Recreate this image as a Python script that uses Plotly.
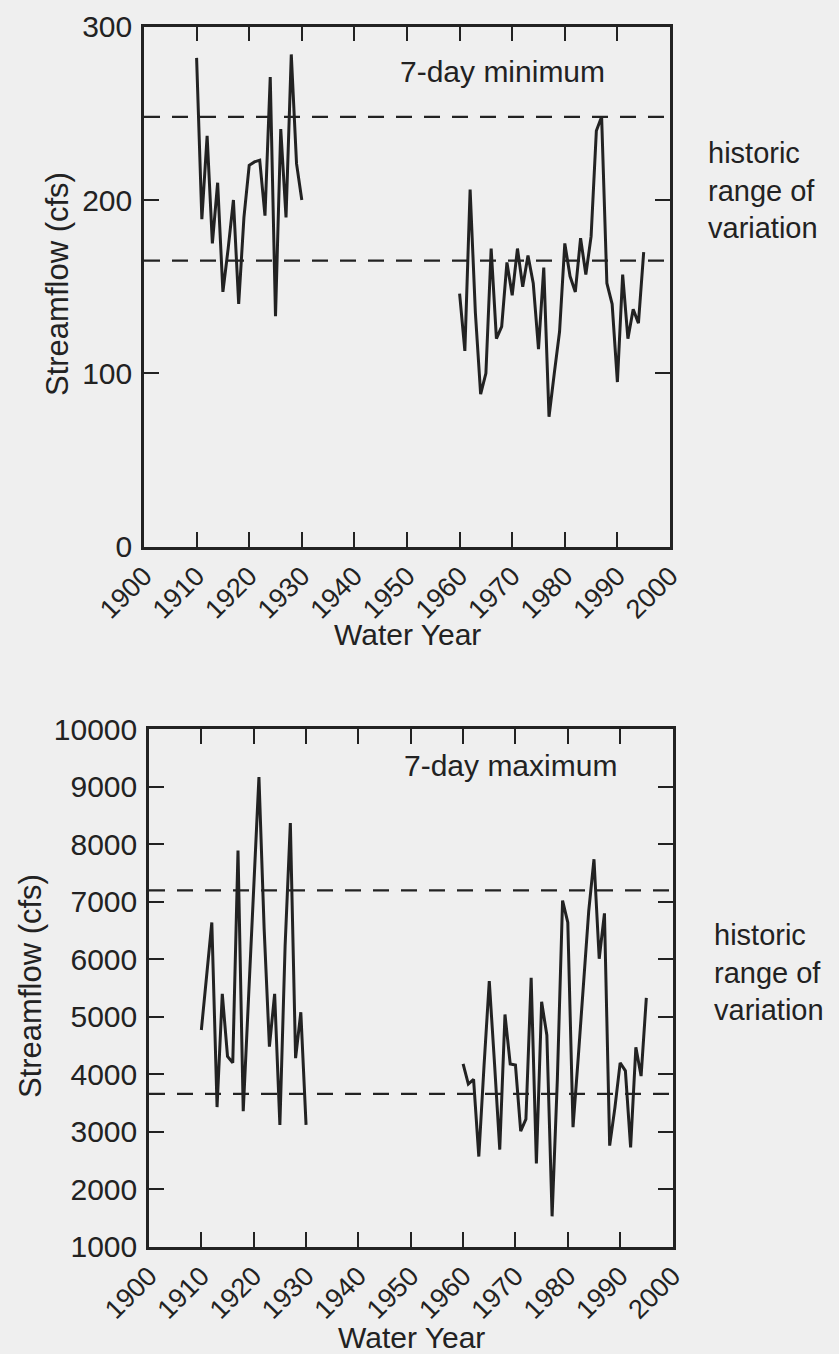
import plotly.graph_objects as go

# ---- data ----
min_years_early = list(range(1910, 1931))
min_flow_early = [282, 189, 237, 175, 210, 147, 172, 200, 140, 190, 220, 222, 223,
                  191, 271, 133, 241, 190, 284, 221, 200]
min_years_late = list(range(1960, 1996))
min_flow_late = [146, 113, 206, 135, 88, 100, 172, 120, 127, 164, 145, 172, 150, 168,
                 152, 114, 161, 75, 100, 124, 175, 156, 147, 178, 157, 179, 240, 248,
                 152, 140, 95, 157, 120, 137, 129, 170]
min_range = [165, 248]

max_years_early = list(range(1910, 1931))
max_flow_early = [4770, 5700, 6640, 3430, 5400, 4310, 4200, 7890, 3360, 5300, 7240,
                  9170, 6520, 4480, 5400, 3120, 6230, 8370, 4280, 5080, 3120]
max_years_late = list(range(1960, 1996))
max_flow_late = [4180, 3830, 3910, 2570, 4150, 5620, 4190, 2690, 5040, 4180, 4160,
                 3010, 3220, 5680, 2450, 5260, 4680, 1530, 3900, 7020, 6640, 3080,
                 4300, 5530, 6840, 7740, 6010, 6800, 2760, 3420, 4200, 4060, 2730,
                 4470, 3970, 5330]
max_range = [3660, 7200]

x_ticks = list(range(1900, 2001, 10))

FONT = "Arial, Liberation Sans, Helvetica, sans-serif"
INK = "#222222"
BG = "#efefef"
W, H = 839, 1354

fig = go.Figure()

def add_series(xs, ys, xa, ya):
    fig.add_trace(go.Scatter(x=xs, y=ys, mode="lines", xaxis=xa, yaxis=ya,
                             line=dict(color=INK, width=3), showlegend=False,
                             hoverinfo="skip"))

add_series(min_years_early, min_flow_early, "x", "y")
add_series(min_years_late, min_flow_late, "x", "y")
add_series(max_years_early, max_flow_early, "x2", "y2")
add_series(max_years_late, max_flow_late, "x2", "y2")

for v in min_range:
    fig.add_shape(type="line", xref="x domain", yref="y", x0=0, x1=1, y0=v, y1=v,
                  line=dict(color=INK, width=2.3, dash="16px,12px"))
for v in max_range:
    fig.add_shape(type="line", xref="x2 domain", yref="y2", x0=0, x1=1, y0=v, y1=v,
                  line=dict(color=INK, width=2.3, dash="16px,12px"))

def px_x(p):
    return p / W

def px_y(p):
    return 1 - p / H

axis_common = dict(showline=True, linecolor=INK, linewidth=2.5, mirror="ticks",
                   ticks="inside", ticklen=15, tickwidth=2.3, tickcolor=INK,
                   showgrid=False, zeroline=False, automargin=False)
yfont = dict(family=FONT, size=30, color=INK)
xfont = dict(family=FONT, size=27, color=INK)

fig.update_layout(
    width=W, height=H, paper_bgcolor=BG, plot_bgcolor=BG,
    margin=dict(l=0, r=0, t=0, b=0), showlegend=False,
    xaxis=dict(domain=[px_x(144), px_x(670)], range=[1900, 2000], tickvals=x_ticks,
               tickangle=-45, anchor="y", tickfont=xfont, ticklabelstandoff=0,
               **axis_common),
    yaxis=dict(domain=[px_y(546.7), px_y(26.7)], range=[0, 300], dtick=100,
               tickformat="d", anchor="x", ticklabelstandoff=3, tickfont=yfont,
               **axis_common),
    xaxis2=dict(domain=[px_x(149), px_x(672.5)], range=[1900, 2000], tickvals=x_ticks,
                tickangle=-45, anchor="y2", tickfont=xfont, ticklabelstandoff=0,
                **axis_common),
    yaxis2=dict(domain=[px_y(1246.8), px_y(729.3)], range=[1000, 10000], dtick=1000,
                tickformat="d", anchor="x2", ticklabelstandoff=3, tickfont=yfont,
                **axis_common),
)

def note(text, x, y, xanchor="center", yanchor="middle", angle=0, size=30, align="center"):
    fig.add_annotation(text=text, x=px_x(x), y=px_y(y), xref="paper", yref="paper",
                       xanchor=xanchor, yanchor=yanchor, textangle=angle, showarrow=False,
                       align=align, font=dict(family=FONT, size=size, color=INK))

# axis titles
note("Streamflow (cfs)", 57, 284, angle=-90, size=31)
note("Water Year", 407, 634)
note("Streamflow (cfs)", 30, 986, angle=-90, size=31)
note("Water Year", 411, 1337)

# in-plot labels
note("7-day minimum", 398, 72, xanchor="left")
note("7-day maximum", 402, 765, xanchor="left")

# side labels
note("historic<br>range of<br>variation", 706, 191, xanchor="left", size=29, align="left")
note("historic<br>range of<br>variation", 712, 972, xanchor="left", size=29, align="left")

fig.write_html("out.html")
